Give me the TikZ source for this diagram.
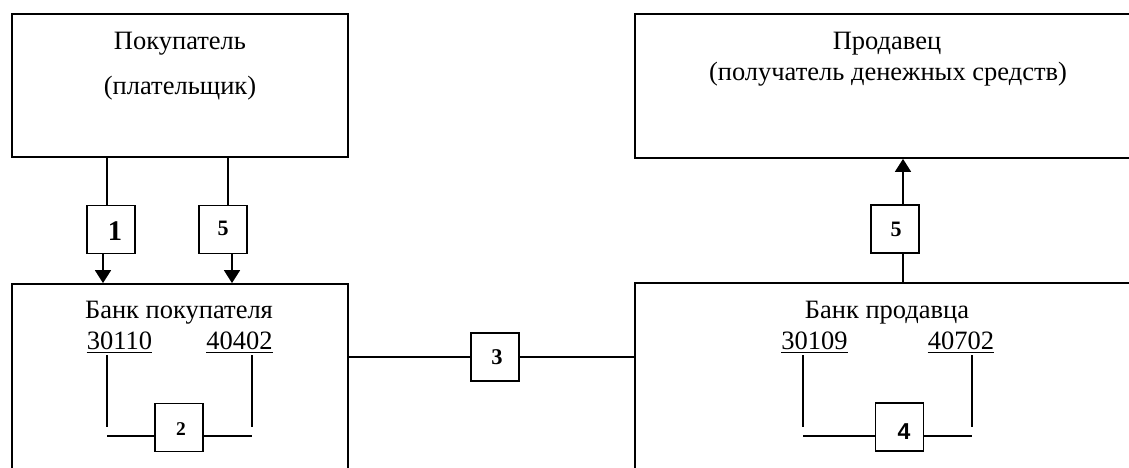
\documentclass[tikz,border=0pt]{standalone}
\usepackage{fontspec}
\setmainfont{Liberation Serif}
\newfontfamily\numsans{Liberation Sans}
\usetikzlibrary{arrows.meta}
\tikzset{
  frame/.style={draw, line width=1.8pt, inner sep=0pt},
  numbox/.style={draw, line width=1.8pt, minimum width=48pt, minimum height=48pt, inner sep=0pt},
  conn/.style={line width=1.8pt},
  arr/.style={line width=1.8pt, -{Triangle[width=16pt,length=13pt]}},
  txt/.style={inner sep=0pt, font=\fontsize{26.5}{30}\selectfont},
  ul/.style={line width=1.8pt}
}
\begin{document}
\begin{tikzpicture}[x=1pt,y=-1pt]
\useasboundingbox (0,0) rectangle (1129,468);
\clip (0,0) rectangle (1129,468);
\fill[white] (0,0) rectangle (1129,468);
% main boxes
\node[frame, minimum width=336pt, minimum height=143pt] (buyer) at (180,85.5) {};
\node[frame, minimum width=336pt, minimum height=240pt] (bbank) at (180,404) {};
\node[frame, minimum width=520pt, minimum height=144pt] (seller) at (895,86) {};
\node[frame, minimum width=520pt, minimum height=240pt] (sbank) at (895,403) {};
% texts
\node[txt, anchor=base] (t1) at (180,50) {Покупатель};
\node[txt, anchor=base] (t2) at (180,95) {(плательщик)};
\node[txt, anchor=base] (t3) at (887,50) {Продавец};
\node[txt, anchor=base] (t4) at (888,81) {(получатель денежных средств)};
\node[txt, anchor=base] (t5) at (179,318) {Банк покупателя};
\node[txt, anchor=base] (t6) at (887,318) {Банк продавца};
\node[txt, anchor=base] (a1) at (119.5,349) {30110};
\node[txt, anchor=base] (a2) at (239.5,349) {40402};
\node[txt, anchor=base] (a3) at (814.5,349) {30109};
\node[txt, anchor=base] (a4) at (961,349) {40702};
\foreach \n in {a1,a2,a3,a4}{
  \draw[ul] ([yshift=-3.5pt]\n.base west) -- ([yshift=-3.5pt]\n.base east);
}
% numbered boxes
\node[numbox] (n1) at (111,229.5) {};
\node[numbox] (n5a) at (223,229.5) {};
\node[numbox] (n2) at (179,427.5) {};
\node[numbox] (n3) at (495,357) {};
\node[numbox] (n4) at (899.5,427) {};
\node[numbox] (n5b) at (895,229) {};
\node[font=\fontsize{28.5}{30}\selectfont\bfseries] at (115,231) {1};
\node[font=\fontsize{22}{24}\selectfont\bfseries] at (223,228) {5};
\node[font=\fontsize{19.5}{22}\selectfont\bfseries] at (181,429) {2};
\node[font=\fontsize{22.5}{24}\selectfont\bfseries] at (497,357) {3};
\node[font=\fontsize{23}{24}\selectfont\bfseries\numsans] at (904,432) {4};
\node[font=\fontsize{22}{24}\selectfont\bfseries] at (896,229) {5};
% coordinates for connectors
\coordinate (x1) at (107,0);
\coordinate (x1b) at (103,0);
\coordinate (x5) at (228,0);
\coordinate (x5b) at (232,0);
\coordinate (xr) at (903,0);
% buyer -> bank
\draw[conn] (buyer.south -| x1) -- (n1.north -| x1);
\draw[arr] (n1.south -| x1b) -- (bbank.north -| x1b);
\draw[conn] (buyer.south -| x5) -- (n5a.north -| x5);
\draw[arr] (n5a.south -| x5b) -- (bbank.north -| x5b);
% seller bank -> seller
\draw[conn] (sbank.north -| xr) -- (n5b.south -| xr);
\draw[arr] (n5b.north -| xr) -- (seller.south -| xr);
% bank to bank
\draw[conn] (bbank.east |- n3) -- (n3.west);
\draw[conn] (n3.east) -- (sbank.west |- n3);
% internal links left
\coordinate (l1) at (107,355);
\coordinate (l2) at (252,355);
\draw[conn] (l1) -- ++(0,72);
\draw[conn] (l2) -- ++(0,72);
\draw[conn] (l1 |- 0,436) -- (n2.west |- 0,436);
\draw[conn] (n2.east |- 0,436) -- (l2 |- 0,436);
% internal links right
\coordinate (r1) at (803,355);
\coordinate (r2) at (972,355);
\draw[conn] (r1) -- ++(0,72);
\draw[conn] (r2) -- ++(0,72);
\draw[conn] (r1 |- 0,436) -- (n4.west |- 0,436);
\draw[conn] (n4.east |- 0,436) -- (r2 |- 0,436);
\end{tikzpicture}
\end{document}
